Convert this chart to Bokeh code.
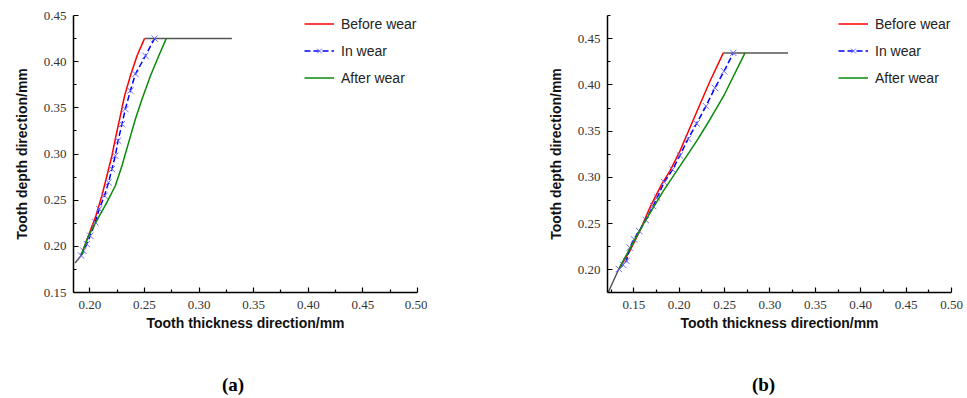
from bokeh.plotting import figure
from bokeh.models import Range1d, FixedTicker, Legend, LegendItem, Label, CustomJSTickFormatter
from bokeh.layouts import row, column
from bokeh.embed import file_html
from bokeh.resources import INLINE

nan = float("nan")

# ---------------- Panel (a) data ----------------
gray_a_x = [0.1865, 0.1920, nan, 0.250, 0.330]
gray_a_y = [0.182, 0.190, nan, 0.425, 0.425]

red_a_x = [0.1920, 0.1987, 0.2055, 0.2110, 0.2156, 0.2202, 0.2239, 0.2279, 0.2318, 0.2371, 0.2432, 0.2500]
red_a_y = [0.190, 0.2114, 0.2331, 0.2548, 0.2764, 0.2981, 0.3198, 0.3414, 0.3631, 0.3848, 0.4064, 0.425]

blue_a_x = [0.1920, 0.1941, 0.1972, 0.2003, 0.2049, 0.2086, 0.2134, 0.2171, 0.2202, 0.2233,
            0.2258, 0.2294, 0.2325, 0.2371, 0.2417, 0.2509, 0.2592]
blue_a_y = [0.190, 0.1952, 0.2024, 0.2114, 0.2260, 0.2404, 0.2548, 0.2693, 0.2837, 0.2981,
            0.3144, 0.3324, 0.3487, 0.3685, 0.3866, 0.4064, 0.425]

green_a_x = [0.1920, 0.1987, 0.2079, 0.2156, 0.2233, 0.2294, 0.2355, 0.2417, 0.2478, 0.2555, 0.2631, 0.2699]
green_a_y = [0.190, 0.2114, 0.2314, 0.2476, 0.2656, 0.2873, 0.3126, 0.3379, 0.3595, 0.3848, 0.4064, 0.425]

# ---------------- Panel (b) data ----------------
gray_b_x = [0.1217, 0.1335, nan, 0.2486, 0.320]
gray_b_y = [0.1756, 0.2010, nan, 0.4346, 0.4346]

red_b_x = [0.1335, 0.1456, 0.1566, 0.1677, 0.1806, 0.1897, 0.2008, 0.2118, 0.2228, 0.2339, 0.2486]
red_b_y = [0.2010, 0.2205, 0.2421, 0.2673, 0.2924, 0.3068, 0.3284, 0.3536, 0.3788, 0.4039, 0.4346]

blue_b_x = [0.1335, 0.1382, 0.1419, 0.1456, 0.1503, 0.1559, 0.1632, 0.1713, 0.1757, 0.1835,
            0.1927, 0.2008, 0.2099, 0.2192, 0.2295, 0.2394, 0.2494, 0.2596]
blue_b_y = [0.2010, 0.2054, 0.2097, 0.2241, 0.2331, 0.2421, 0.2539, 0.2690, 0.2781, 0.2949,
            0.3086, 0.3237, 0.3418, 0.3583, 0.3770, 0.3968, 0.4147, 0.4346]

green_b_x = [0.1335, 0.1382, 0.1603, 0.1824, 0.1971, 0.2192, 0.2339, 0.2490, 0.2725]
green_b_y = [0.2010, 0.2097, 0.2493, 0.2852, 0.3068, 0.3392, 0.3626, 0.3880, 0.4346]

# ---------------- axes / labels ----------------
x_ticks_a = [0.20, 0.25, 0.30, 0.35, 0.40, 0.45, 0.50]
y_ticks_a = [0.15, 0.20, 0.25, 0.30, 0.35, 0.40, 0.45]
x_ticks_b = [0.15, 0.20, 0.25, 0.30, 0.35, 0.40, 0.45, 0.50]
y_ticks_b = [0.20, 0.25, 0.30, 0.35, 0.40, 0.45]

x_minor_a = [0.225, 0.275, 0.325, 0.375, 0.425, 0.475]
y_minor_a = [0.175, 0.225, 0.275, 0.325, 0.375, 0.425]
x_minor_b = [0.125, 0.175, 0.225, 0.275, 0.325, 0.375, 0.425, 0.475]
y_minor_b = [0.225, 0.275, 0.325, 0.375, 0.425, 0.475]

x_range_a = (0.185, 0.50)
y_range_a = (0.15, 0.45)
x_range_b = (0.121, 0.50)
y_range_b = (0.1756, 0.475)

series_names = ["Before wear", "In wear", "After wear"]
x_title = "Tooth thickness direction/mm"
y_title = "Tooth depth direction/mm"
captions = ["(a)", "(b)"]

RED = "#ff0000"
BLUE = "#0000ff"
BLUE_MK = "#6b6bff"
GREEN = "#0a8a0a"
GRAY = "#555555"

fmt = CustomJSTickFormatter(code="return tick.toFixed(2);")

FRAME_W = 344
FRAME_H = 277
TOP = 15
BOTTOM = 79
CAP_H = 25
ITEM_H = 17
ROW_GAP = 10


def panel(xr, yr, xt, yt, xm, ym, gx, gy, rx, ry, bx, by, grx, gry, border_left, border_right):
    p = figure(frame_width=FRAME_W, frame_height=FRAME_H, output_backend="svg", toolbar_location=None,
               x_range=Range1d(*xr), y_range=Range1d(*yr),
               min_border_left=border_left, min_border_right=border_right,
               min_border_top=TOP, min_border_bottom=BOTTOM)
    p.outline_line_color = None
    p.grid.visible = False
    p.background_fill_color = "white"
    p.border_fill_color = "white"

    p.xaxis.ticker = FixedTicker(ticks=xt, minor_ticks=xm)
    p.yaxis.ticker = FixedTicker(ticks=yt, minor_ticks=ym)
    for ax in (p.xaxis[0], p.yaxis[0]):
        ax.formatter = fmt
        ax.axis_line_color = "black"
        ax.axis_line_width = 1.5
        ax.major_tick_in = 5
        ax.major_tick_out = 0
        ax.minor_tick_in = 3
        ax.minor_tick_out = 0
        ax.major_tick_line_color = "black"
        ax.minor_tick_line_color = "black"
        ax.major_tick_line_width = 1.2
        ax.minor_tick_line_width = 1.2
        ax.major_label_text_font = "Liberation Serif"
        ax.major_label_text_font_size = "13px"
        ax.major_label_text_color = "#333333"
        ax.major_label_standoff = 7
        ax.axis_label_text_font = "Liberation Sans"
        ax.axis_label_text_font_size = "14px"
        ax.axis_label_text_font_style = "bold"
        ax.axis_label_text_color = "#111111"
    p.xaxis.axis_label = x_title
    p.yaxis.axis_label = y_title
    p.xaxis.major_label_standoff = 8
    p.xaxis.axis_label_standoff = 3
    p.yaxis.axis_label_standoff = 11

    p.line(gx, gy, line_color=GRAY, line_width=1.5)
    r_red = p.line(rx, ry, line_color=RED, line_width=1.5)
    r_blue = p.line(bx, by, line_color=BLUE, line_width=1.5, line_dash="6 3")
    r_bmk = p.scatter(bx, by, marker="x", size=9, line_color=BLUE_MK, line_width=1)
    r_green = p.line(grx, gry, line_color=GREEN, line_width=1.5)

    leg_h = 3 * ITEM_H + 2 * ROW_GAP
    legend = Legend(items=[LegendItem(label=series_names[0], renderers=[r_red]),
                           LegendItem(label=series_names[1], renderers=[r_blue, r_bmk]),
                           LegendItem(label=series_names[2], renderers=[r_green])],
                    location=(231, FRAME_H - leg_h))
    legend.border_line_color = None
    legend.background_fill_alpha = 0
    legend.padding = 0
    legend.margin = 0
    legend.spacing = ROW_GAP
    legend.glyph_width = 30
    legend.glyph_height = ITEM_H
    legend.label_height = ITEM_H
    legend.label_standoff = 7
    legend.label_text_font = "Liberation Sans"
    legend.label_text_font_size = "14px"
    legend.label_text_color = "#222222"
    p.add_layout(legend, "center")
    return p


def caption(width, text, cx):
    c = figure(width=width, height=CAP_H, output_backend="svg", toolbar_location=None,
               x_range=Range1d(0, 1), y_range=Range1d(0, 1),
               x_axis_location=None, y_axis_location=None, min_border=0)
    c.outline_line_color = None
    c.grid.visible = False
    c.add_layout(Label(x=cx, y=CAP_H / 2, x_units="screen", y_units="screen", text=text,
                       text_font="Liberation Serif", text_font_size="19px", text_font_style="bold",
                       text_align="center", text_baseline="middle", text_color="black"))
    return c


pa = panel(x_range_a, y_range_a, x_ticks_a, y_ticks_a, x_minor_a, y_minor_a,
           gray_a_x, gray_a_y, red_a_x, red_a_y, blue_a_x, blue_a_y, green_a_x, green_a_y,
           73, 10)
pb = panel(x_range_b, y_range_b, x_ticks_b, y_ticks_b, x_minor_b, y_minor_b,
           gray_b_x, gray_b_y, red_b_x, red_b_y, blue_b_x, blue_b_y, green_b_x, green_b_y,
           180, 12)

wa = 73 + FRAME_W + 10
wb = 180 + FRAME_W + 12
ca = caption(wa, captions[0], 232.5)
cb = caption(wb, captions[1], 336)

layout = column(row(pa, pb), row(ca, cb))
open("out.html", "w").write(file_html(layout, INLINE))
